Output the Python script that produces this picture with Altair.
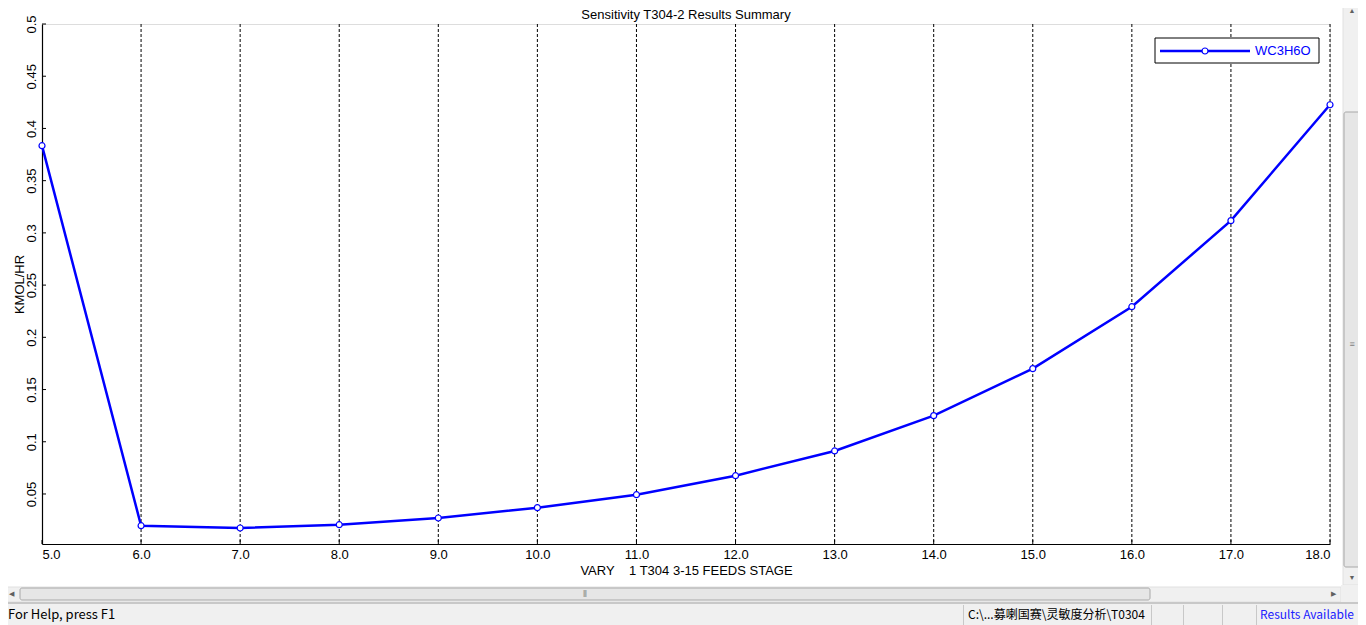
import pandas as pd
import altair as alt

# Sensitivity results
stage = [5, 6, 7, 8, 9, 10, 11, 12, 13, 14, 15, 16, 17, 18]
wc3h6o = [0.3835, 0.0196, 0.0174, 0.0206, 0.0270, 0.0369, 0.0493,
          0.0675, 0.0912, 0.1250, 0.1700, 0.2293, 0.3117, 0.4227]
y_ticks = [0.05, 0.1, 0.15, 0.2, 0.25, 0.3, 0.35, 0.4, 0.45, 0.5]
series_name = "WC3H6O"
chart_title = "Sensitivity T304-2 Results Summary"

W, H = 1288, 520
FONT = "Liberation Sans"
UI_FONT = "Noto Sans CJK SC"
BLUE = "#0000ff"

df = pd.DataFrame({"stage": stage, "kmol": wc3h6o, "series": series_name})
grid_df = pd.DataFrame({"stage": stage[1:]})
ytick_df = pd.DataFrame({"kmol": y_ticks})
one = pd.DataFrame({"k": [0]})

x_scale = alt.Scale(domain=[5, 18], nice=False, zero=False)
y_scale = alt.Scale(domain=[0.0021, 0.5], nice=False, zero=False)

x_axis = alt.Axis(
    values=stage, format=".1f", ticks=False, grid=False,
    domainColor="black", domainWidth=1.2,
    labelFont=FONT, labelFontSize=13, labelColor="black", labelPadding=4,
    title="VARY\u00a0\u00a0\u00a0\u00a01 T304 3-15 FEEDS STAGE",
    titleFont=FONT, titleFontSize=13, titleFontWeight="normal",
    titleColor="black", titlePadding=3,
)
y_axis = alt.Axis(
    values=y_ticks, format="~g", ticks=False, grid=False,
    domainColor="black", domainWidth=1.2,
    labelFont=FONT, labelFontSize=13, labelColor="black",
    labelAngle=270, labelAlign="center", labelBaseline="bottom", labelPadding=4,
    title="KMOL/HR", titleFont=FONT, titleFontSize=13, titleFontWeight="normal",
    titleColor="black", titleAngle=270, titleAlign="center", titleBaseline="bottom",
    titleX=-16, titleY=H / 2,
)

base = alt.Chart(df)

grid = alt.Chart(grid_df).mark_rule(color="black", strokeWidth=1, strokeDash=[3, 2]).encode(
    x=alt.X("stage:Q", scale=x_scale),
    y=alt.value(0),
    y2=alt.value(H),
)

line = base.mark_line(color=BLUE, strokeWidth=2.5).encode(
    x=alt.X("stage:Q", scale=x_scale, axis=x_axis),
    y=alt.Y("kmol:Q", scale=y_scale, axis=y_axis),
)

points = base.mark_point(shape="circle", size=36, fill="white", fillOpacity=1,
                         stroke=BLUE, strokeWidth=1.2, opacity=1).encode(
    x=alt.X("stage:Q", scale=x_scale),
    y=alt.Y("kmol:Q", scale=y_scale),
)

# inward ticks
y_tick_marks = alt.Chart(ytick_df).mark_rule(color="black", strokeWidth=1).encode(
    y=alt.Y("kmol:Q", scale=y_scale),
    x=alt.value(0),
    x2=alt.value(4),
)
x_tick_marks = alt.Chart(pd.DataFrame({"stage": stage})).mark_rule(color="black", strokeWidth=1).encode(
    x=alt.X("stage:Q", scale=x_scale),
    y=alt.value(H - 4),
    y2=alt.value(H),
)

# title as a text mark so the chrome above the plot does not push it away
title = alt.Chart(pd.DataFrame({"t": [chart_title]})).mark_text(
    align="center", baseline="alphabetic", font=FONT, fontSize=13, color="black"
).encode(x=alt.value(W / 2), y=alt.value(-5), text="t:N")

# legend box
leg_df = pd.DataFrame({"series": [series_name]})
leg_box = alt.Chart(leg_df).mark_rect(fill="white", stroke="black", strokeWidth=1).encode(
    x=alt.value(1113), x2=alt.value(1277), y=alt.value(14), y2=alt.value(39))
leg_line = alt.Chart(leg_df).mark_rule(color=BLUE, strokeWidth=2.5).encode(
    x=alt.value(1118), x2=alt.value(1208), y=alt.value(27))
leg_point = alt.Chart(leg_df).mark_point(shape="circle", size=36, fill="white", fillOpacity=1,
                                         stroke=BLUE, strokeWidth=1.2, opacity=1).encode(
    x=alt.value(1163), y=alt.value(27))
leg_text = alt.Chart(leg_df).mark_text(align="left", baseline="middle", font=FONT,
                                       fontSize=13, color=BLUE).encode(
    x=alt.value(1213), y=alt.value(27), text="series:N")


# window chrome (scrollbars, status bar)
def box(x, x2, y, y2, **style):
    return alt.Chart(one).mark_rect(**style).encode(
        x=alt.value(x), x2=alt.value(x2), y=alt.value(y), y2=alt.value(y2))


def label(x, y, txt, **style):
    return alt.Chart(pd.DataFrame({"t": [txt]})).mark_text(**style).encode(
        x=alt.value(x), y=alt.value(y), text="t:N")


chrome = [
    box(1301, 1330, -30, 561, fill="#f0f0f0", stroke="#e0e0e0"),
    box(1302, 1318, 88, 543, fill="#e6e6e6", stroke="#a8a8a8", cornerRadius=2),
    label(1310, -13, "▲", fontSize=7, color="#606060"),
    label(1310, 554, "▼", fontSize=7, color="#606060"),
    label(1310, 320, "≡", fontSize=9, color="#808080"),
    box(-40, 1299, 563, 578, fill="#f0f0f0", stroke="#e0e0e0"),
    box(-22, 1108, 564, 576, fill="#e6e6e6", stroke="#a8a8a8", cornerRadius=2),
    label(-31, 570, "◀", fontSize=7, color="#606060"),
    label(1291, 570, "▶", fontSize=7, color="#606060"),
    label(543, 570, "⦀", fontSize=9, color="#808080"),
    box(1299, 1330, 561, 579, fill="#f0f0f0"),
    box(-40, 1330, 579, 610, fill="#f0f0f0", stroke="#a0a0a0", strokeWidth=1),
    box(921, 922, 581, 610, fill="#c8c8c8"),
    box(1109, 1110, 581, 610, fill="#c8c8c8"),
    box(1141, 1142, 581, 610, fill="#c8c8c8"),
    box(1180, 1181, 581, 610, fill="#c8c8c8"),
    box(1214, 1215, 581, 610, fill="#c8c8c8"),
    label(-34, 591, "For Help, press F1", align="left", baseline="middle",
          font=UI_FONT, fontSize=13, color="black"),
    label(926, 591, "C:\\...募喇国赛\\灵敏度分析\\T0304", align="left", baseline="middle",
          font=UI_FONT, fontSize=12, color="black"),
    label(1218, 591, "Results Available", align="left", baseline="middle",
          font=UI_FONT, fontSize=12, color="#2020ff"),
]

chart = alt.layer(
    grid, line, points, y_tick_marks, x_tick_marks, title,
    leg_box, leg_line, leg_point, leg_text, *chrome,
).properties(
    width=W,
    height=H,
    autosize=alt.AutoSizeParams(type="none"),
    padding={"left": 34, "top": 16, "right": 28, "bottom": 81},
).configure_view(strokeWidth=0, stroke="transparent").configure(background="white")

chart.save("out.html", embed_options={"renderer": "svg", "actions": False})
